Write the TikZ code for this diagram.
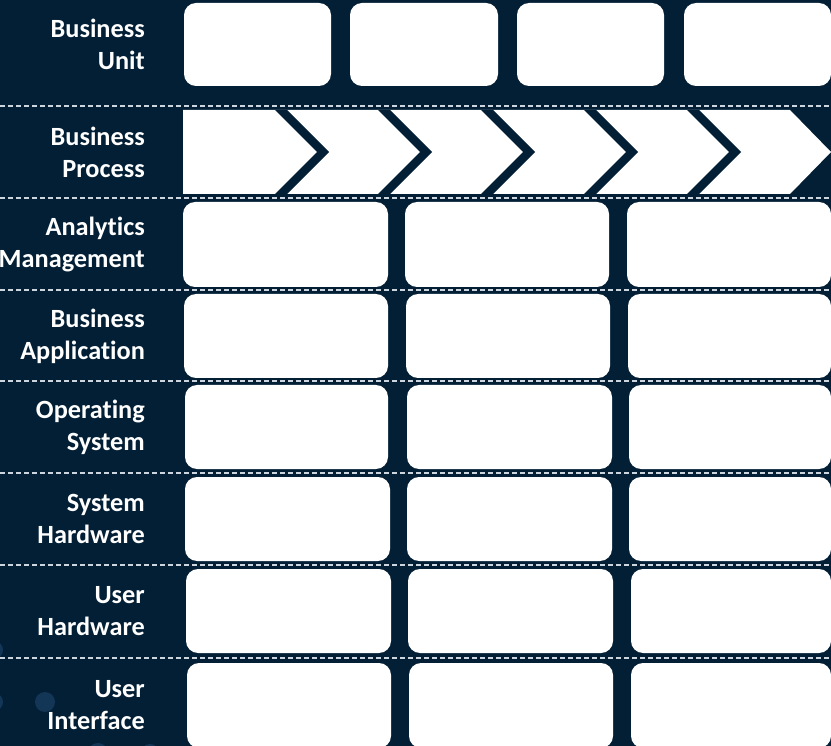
\documentclass[tikz,border=0pt]{standalone}
\usepackage{fontspec}
\setmainfont{Carlito}[Ligatures=NoCommon]
\definecolor{navy}{RGB}{3,31,53}
\definecolor{dotc}{RGB}{20,54,86}
\definecolor{dashc}{RGB}{205,213,222}
\begin{document}
\begin{tikzpicture}[x=1pt,y=-1pt,
  cellbox/.style={fill=white, rounded corners=12pt},
  sepline/.style={draw=dashc, line width=1.3pt, dash pattern=on 5pt off 3pt},
  lab/.style={anchor=east, align=right, text=white, inner sep=0pt,
    font=\fontsize{26.3}{32}\selectfont\bfseries}]
\fill[navy] (0,0) rectangle (831,746);
\useasboundingbox (0,0) rectangle (831,746);
% decorative dots
\fill[dotc] (-6,650) circle[radius=9pt];
\fill[dotc] (-6,702) circle[radius=9pt];
\fill[dotc] (45,702) circle[radius=10pt];
\fill[dotc] (98,753) circle[radius=10pt];
\fill[dotc] (150,753) circle[radius=9pt];
% separators
\foreach \y in {106,198,290,381,473,565,658}
  \draw[sepline] (0,\y) -- (831,\y);
% row 1: business units
\fill[cellbox] (184,3) rectangle (331,86);
\fill[cellbox] (350,3) rectangle (498,86);
\fill[cellbox] (517,3) rectangle (664,86);
\fill[cellbox] (684,3) rectangle (831,86);
% row 2: process chevrons
\fill[white] (183,110) -- (790,110) -- (831,152) -- (790,194) -- (183,194) -- cycle;
\foreach \x in {275,378,481,584,687}
  \fill[navy] (\x,110) -- ++(12,0) -- ++(42,42) -- ++(-42,42) -- ++(-12,0) -- ++(42,-42) -- cycle;
% rows 3-8: three columns
\foreach \ya/\yb/\xa/\xb/\xc/\xd/\xe in {
    202/287/183/388/405/609/627,
    294/378/184/388/406/610/628,
    385/469/185/388/407/612/629,
    477/561/185/390/407/612/629,
    569/653/186/391/408/613/631,
    663/748/187/391/409/613/631}{
  \fill[cellbox] (\xa,\ya) rectangle (\xb,\yb);
  \fill[cellbox] (\xc,\ya) rectangle (\xd,\yb);
  \fill[cellbox] (\xe,\ya) rectangle (831,\yb);
}
% labels
\node[lab] (l1) at (145,44.5) {Business\\Unit};
\node[lab] (l2) at (145,152) {Business\\Process};
\node[lab] (l3) at (145,244.5) {Analytics\\Management};
\node[lab] (l4) at (145,336) {Business\\Application};
\node[lab] (l5) at (145,427) {Operating\\System};
\node[lab] (l6) at (145,519) {System\\Hardware};
\node[lab] (l7) at (145,611) {User\\Hardware};
\node[lab] (l8) at (145,705) {User\\Interface};
\end{tikzpicture}
\end{document}
